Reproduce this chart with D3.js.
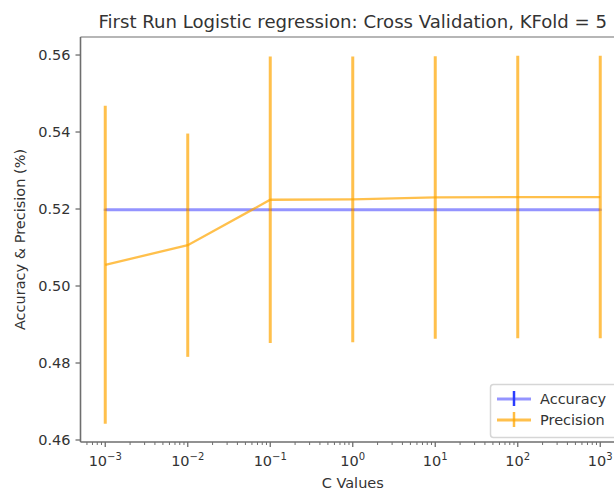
<!DOCTYPE html>
<html>
<head>
<meta charset="utf-8">
<script src="https://cdn.jsdelivr.net/npm/d3@7"></script>
<style>
  html, body { margin: 0; padding: 0; background: #fff; }
  svg { display: block; font-family: "DejaVu Sans", sans-serif; }
</style>
</head>
<body>
<svg id="chart" width="614" height="491"></svg>
<script>
// Regularisation strengths tried (C values)
const cValues = [1e-3, 1e-2, 1e-1, 1e0, 1e1, 1e2, 1e3];
const cExponents = [-3, -2, -1, 0, 1, 2, 3];

// Mean accuracy and its spread across the 5 folds
const accuracyMean = [0.5198, 0.5198, 0.5198, 0.5198, 0.5198, 0.5198, 0.5198];
const accuracyStd  = [0.0003, 0.0003, 0.0003, 0.0003, 0.0003, 0.0003, 0.0003];

// Mean precision and its spread across the 5 folds
const precisionMean = [0.5055, 0.5106, 0.5224, 0.5225, 0.5230, 0.5231, 0.5231];
const precisionStd  = [0.0413, 0.0290, 0.0372, 0.0371, 0.0367, 0.0367, 0.0367];

const yTicks = [0.46, 0.48, 0.50, 0.52, 0.54, 0.56];

const titleText = "First Run Logistic regression: Cross Validation, KFold = 5";
const xLabel = "C Values";
const yLabel = "Accuracy & Precision (%)";
const seriesNames = ["Accuracy", "Precision"];

const svg = d3.select("#chart");
const plot = { left: 80.5, right: 625, top: 37, bottom: 442 };

const x = d3.scaleLog()
  .domain([Math.pow(10, -3.3), Math.pow(10, 3.3)])
  .range([plot.left, plot.right]);
const y = d3.scaleLinear()
  .domain([0.45948, 0.56468])
  .range([plot.bottom, plot.top]);

const BLUE = "#0000ff", ORANGE = "#ffa500";
const tickFont = 14.5;

// Series: line plus vertical error bars, each drawn semi-transparent
function drawSeries(means, stds, color, opacity, lineWidth) {
  const g = svg.append("g");
  const line = d3.line().x((d, i) => x(cValues[i])).y(d => y(d));
  g.append("path")
    .datum(means)
    .attr("d", line)
    .attr("fill", "none")
    .attr("stroke", color)
    .attr("stroke-opacity", opacity)
    .attr("stroke-width", lineWidth);
  g.selectAll("line.err")
    .data(means)
    .join("line")
    .attr("class", "err")
    .attr("x1", (d, i) => x(cValues[i]))
    .attr("x2", (d, i) => x(cValues[i]))
    .attr("y1", (d, i) => y(d - stds[i]))
    .attr("y2", (d, i) => y(d + stds[i]))
    .attr("stroke", color)
    .attr("stroke-opacity", opacity)
    .attr("stroke-width", 3);
}
drawSeries(accuracyMean, accuracyStd, BLUE, 0.42, 3);
drawSeries(precisionMean, precisionStd, ORANGE, 0.7, 2.3);

// Axes spines
const spineColor = "#6e6e6e";
svg.append("line")
  .attr("x1", plot.left).attr("x2", plot.left)
  .attr("y1", plot.top).attr("y2", plot.bottom)
  .attr("stroke", spineColor).attr("stroke-width", 1.6);
svg.append("line")
  .attr("x1", plot.left).attr("x2", plot.right)
  .attr("y1", plot.bottom).attr("y2", plot.bottom)
  .attr("stroke", spineColor).attr("stroke-width", 1.6);
svg.append("line")
  .attr("x1", plot.left).attr("x2", plot.right)
  .attr("y1", plot.top).attr("y2", plot.top)
  .attr("stroke", spineColor).attr("stroke-width", 1.2);

// Y axis ticks and labels
const yAxis = svg.append("g");
yTicks.forEach(t => {
  yAxis.append("line")
    .attr("x1", plot.left - 5).attr("x2", plot.left)
    .attr("y1", y(t)).attr("y2", y(t))
    .attr("stroke", spineColor).attr("stroke-width", 1.3);
  yAxis.append("text")
    .attr("x", plot.left - 10)
    .attr("y", y(t))
    .attr("dy", "0.36em")
    .attr("text-anchor", "end")
    .attr("font-size", tickFont)
    .attr("fill", "#333")
    .text(t.toFixed(2));
});

// X axis: major ticks with power-of-ten labels, plus log minor ticks
const xAxis = svg.append("g");
const minorTicks = [];
for (let k = -4; k <= 3; k++) {
  for (let m = 2; m <= 9; m++) {
    const v = m * Math.pow(10, k);
    const px = x(v);
    if (px >= plot.left && px <= plot.right) minorTicks.push(v);
  }
}
minorTicks.forEach(v => {
  xAxis.append("line")
    .attr("x1", x(v)).attr("x2", x(v))
    .attr("y1", plot.bottom).attr("y2", plot.bottom + 3)
    .attr("stroke", spineColor).attr("stroke-width", 1);
});
cValues.forEach((v, i) => {
  xAxis.append("line")
    .attr("x1", x(v)).attr("x2", x(v))
    .attr("y1", plot.bottom).attr("y2", plot.bottom + 5)
    .attr("stroke", spineColor).attr("stroke-width", 1.3);
  const label = xAxis.append("text")
    .attr("x", x(v))
    .attr("y", plot.bottom + 24)
    .attr("text-anchor", "middle")
    .attr("font-size", tickFont)
    .attr("fill", "#333");
  label.append("tspan").text("10");
  const e = cExponents[i];
  label.append("tspan")
    .attr("dy", -6)
    .attr("font-size", 10)
    .text(e < 0 ? "\u2212" + Math.abs(e) : String(e));
});

// Axis labels and title
svg.append("text")
  .attr("x", (plot.left + plot.right) / 2)
  .attr("y", 488)
  .attr("text-anchor", "middle")
  .attr("font-size", tickFont)
  .attr("fill", "#333")
  .text(xLabel);
svg.append("text")
  .attr("transform", `translate(25, ${(plot.top + plot.bottom) / 2}) rotate(-90)`)
  .attr("text-anchor", "middle")
  .attr("font-size", tickFont)
  .attr("fill", "#333")
  .text(yLabel);
svg.append("text")
  .attr("x", (plot.left + plot.right) / 2)
  .attr("y", 28)
  .attr("text-anchor", "middle")
  .attr("font-size", 18.1)
  .attr("fill", "#333")
  .text(titleText);

// Legend
const legend = svg.append("g");
legend.append("rect")
  .attr("x", 490.5).attr("y", 384.5)
  .attr("width", 150).attr("height", 53)
  .attr("rx", 3)
  .attr("fill", "#fff").attr("fill-opacity", 0.8)
  .attr("stroke", "#d6d6d6").attr("stroke-width", 1.5);
const legendItems = [
  { name: seriesNames[0], color: BLUE, opacity: 0.42, barColor: "#2a3cff", barOpacity: 1, cy: 399 },
  { name: seriesNames[1], color: ORANGE, opacity: 0.7, barColor: ORANGE, barOpacity: 0.75, cy: 420 }
];
legendItems.forEach(it => {
  legend.append("line")
    .attr("x1", 497).attr("x2", 531)
    .attr("y1", it.cy).attr("y2", it.cy)
    .attr("stroke", it.color).attr("stroke-opacity", it.opacity)
    .attr("stroke-width", 3);
  legend.append("line")
    .attr("x1", 514).attr("x2", 514)
    .attr("y1", it.cy - 8).attr("y2", it.cy + 7)
    .attr("stroke", it.barColor).attr("stroke-opacity", it.barOpacity)
    .attr("stroke-width", 2.5);
  legend.append("text")
    .attr("x", 540)
    .attr("y", it.cy)
    .attr("dy", "0.36em")
    .attr("font-size", tickFont)
    .attr("fill", "#333")
    .text(it.name);
});
</script>
</body>
</html>
